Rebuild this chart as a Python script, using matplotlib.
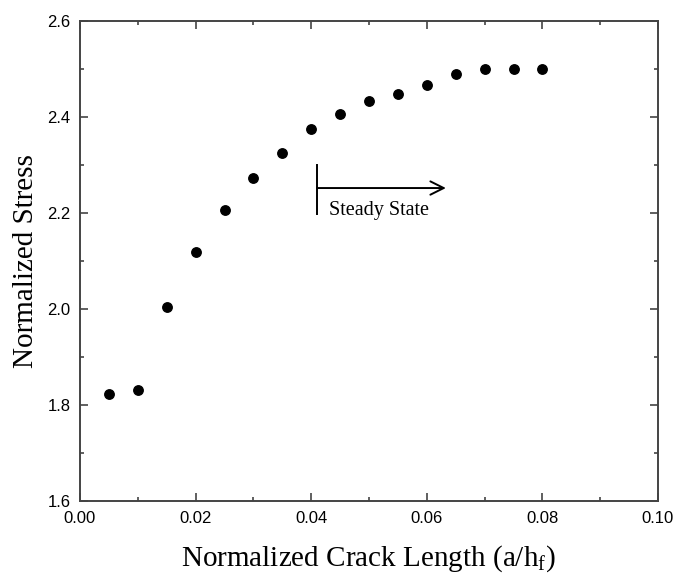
import matplotlib
matplotlib.use("Agg")
import matplotlib.pyplot as plt
from matplotlib.ticker import MultipleLocator, FormatStrFormatter

crack_length = [0.005, 0.010, 0.015, 0.020, 0.025, 0.030, 0.035, 0.040,
                0.045, 0.050, 0.055, 0.060, 0.065, 0.070, 0.075, 0.080]
stress = [1.822, 1.832, 2.005, 2.118, 2.207, 2.273, 2.324, 2.374,
          2.406, 2.433, 2.448, 2.467, 2.489, 2.500, 2.500, 2.500]

x_label = "Normalized Crack Length (a/h$_\\mathregular{f}$)"
y_label = "Normalized Stress"
note = "Steady State"

fig = plt.figure(figsize=(6.75, 5.76), dpi=100)
ax = fig.add_axes([80/675, 75/576, 578/675, 480/576])

ax.plot(crack_length, stress, 'o', color='black', markersize=6.8, linestyle='none')

ax.set_xlim(0, 0.10)
ax.set_ylim(1.6, 2.6)
ax.xaxis.set_major_locator(MultipleLocator(0.02))
ax.xaxis.set_minor_locator(MultipleLocator(0.01))
ax.yaxis.set_major_locator(MultipleLocator(0.2))
ax.yaxis.set_minor_locator(MultipleLocator(0.1))
ax.xaxis.set_major_formatter(FormatStrFormatter('%.2f'))
ax.yaxis.set_major_formatter(FormatStrFormatter('%.1f'))

spine_color = '#444444'
for s in ax.spines.values():
    s.set_linewidth(1.4)
    s.set_color(spine_color)

ax.tick_params(which='both', direction='in', top=True, right=True,
               color=spine_color, width=1.2)
ax.tick_params(which='major', length=6, labelsize=12, pad=7)
ax.tick_params(which='minor', length=3)
for lab in ax.get_xticklabels() + ax.get_yticklabels():
    lab.set_family('Liberation Sans')

ax.set_xlabel(x_label, family='Liberation Serif', fontsize=21, labelpad=13)
ax.set_ylabel(y_label, family='Liberation Serif', fontsize=21, labelpad=6)

# Steady state marker
ax.plot([0.041, 0.041], [2.197, 2.299], color='black', linewidth=1.4)
ax.annotate('', xy=(0.0633, 2.252), xytext=(0.041, 2.252),
            arrowprops=dict(arrowstyle='->', color='black', lw=1.4,
                            mutation_scale=24, shrinkA=0, shrinkB=0))
ax.text(0.0430, 2.205, note, family='Liberation Serif', fontsize=14.5,
        va='center', ha='left')

fig.savefig('out.png', dpi=100)
